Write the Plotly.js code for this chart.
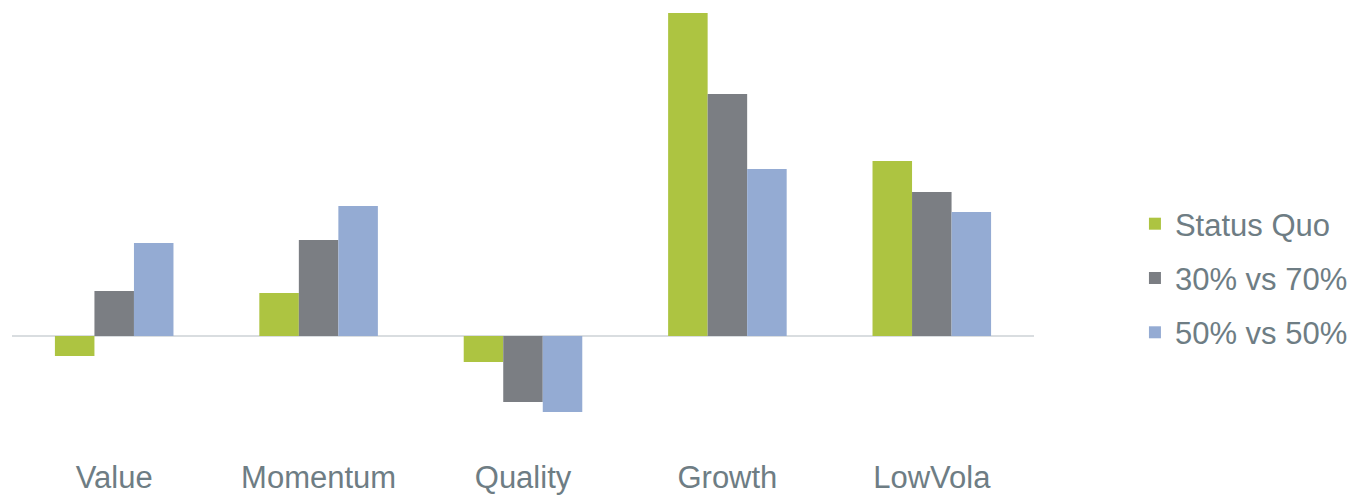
<!DOCTYPE html>
<html>
<head>
<meta charset="utf-8">
<script src="https://cdn.plot.ly/plotly-3.0.1.min.js"></script>
<style>html,body{margin:0;padding:0;background:#fff;}#chart{width:1350px;height:495px;}</style>
</head>
<body>
<div id="chart"></div>
<script>
const categories = ["Value", "Momentum", "Quality", "Growth", "LowVola"];
const statusQuo = [-0.20, 0.43, -0.26, 3.23, 1.75];
const split3070 = [0.45, 0.96, -0.66, 2.42, 1.44];
const split5050 = [0.93, 1.30, -0.76, 1.67, 1.24];
const seriesNames = ["Status Quo", "30% vs 70%", "50% vs 50%"];
const seriesColors = ["#adc441", "#7b7e83", "#94abd3"];
const seriesValues = [statusQuo, split3070, split5050];

const textColor = "#6e7d84";
const traces = seriesValues.map((vals, i) => ({
  type: "bar",
  name: seriesNames[i],
  x: categories,
  y: vals,
  marker: {color: seriesColors[i], line: {width: 0}},
  legendgroup: "g" + i,
  hoverinfo: "x+y+name"
}));

const layout = {
  width: 1350, height: 495,
  margin: {l: 12, r: 316, t: 11, b: 39, autoexpand: false},
  paper_bgcolor: "#ffffff",
  plot_bgcolor: "#ffffff",
  font: {family: "Liberation Sans, Arial, sans-serif", color: textColor, size: 31},
  barmode: "group",
  bargap: 0.42,
  bargroupgap: 0,
  showlegend: true,
  legend: {
    xref: "container", yref: "container",
    x: 0.8407, xanchor: "left", y: 0.4383, yanchor: "middle",
    traceorder: "grouped", tracegroupgap: 11,
    font: {size: 31, color: textColor},
    bgcolor: "rgba(0,0,0,0)", borderwidth: 0
  },
  xaxis: {
    showgrid: false, showline: false, zeroline: false, ticks: "",
    tickfont: {size: 31, color: textColor}
  },
  yaxis: {
    range: [-1.2, 3.25],
    showgrid: false, showticklabels: false, ticks: "",
    zeroline: true, zerolinecolor: "#d9dde0", zerolinewidth: 2,
    showline: false
  }
};

Plotly.newPlot("chart", traces, layout, {displayModeBar: false, staticPlot: true});
</script>
</body>
</html>
